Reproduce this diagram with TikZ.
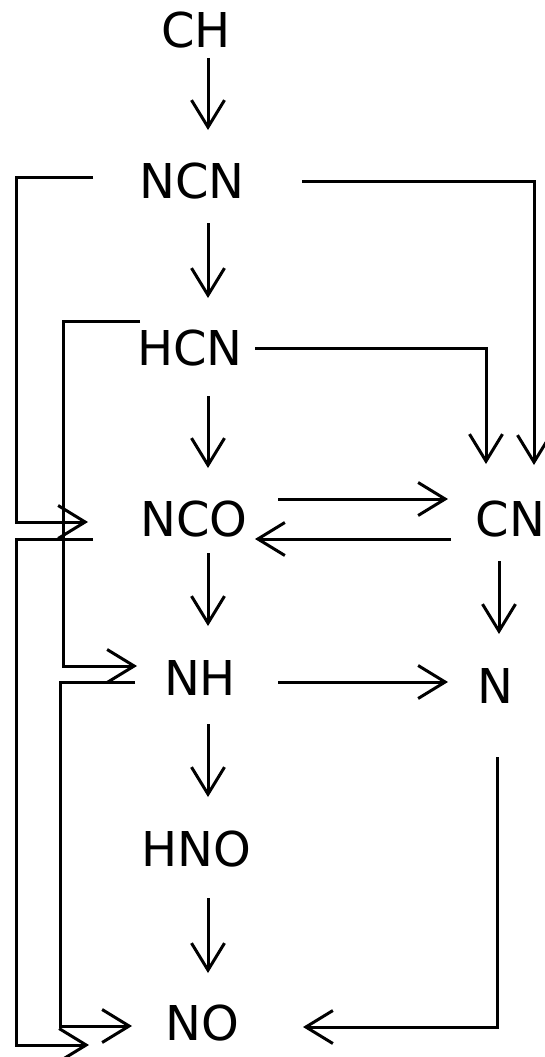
\documentclass[tikz,border=0pt]{standalone}
\usepackage{fontspec}
\setmainfont{DejaVu Sans}
\usetikzlibrary{arrows.meta}
\begin{document}
\begin{tikzpicture}[x=1pt,y=-1pt,
  lbl/.style={inner sep=0pt,font=\fontsize{48}{58}\selectfont},
  conn/.style={line width=3pt,-{Straight Barb[length=27pt,width=33pt,line width=3pt]}}]
\path[use as bounding box] (0,0) rectangle (544,1057);
% species
\node[lbl] (CH)  at (196,30.5) {CH};
\node[lbl] (NCN) at (192,181.5) {NCN};
\node[lbl] (HCN) at (190,348) {HCN};
\node[lbl] (NCO) at (194,519) {NCO};
\node[lbl] (CN)  at (510.5,519) {CN};
\node[lbl] (NH)  at (200,678) {NH};
\node[lbl] (N)   at (495,686) {N};
\node[lbl] (HNO) at (196,849) {HNO};
\node[lbl] (NO)  at (202,1023) {NO};
% main column
\draw[conn] ([shift={(12,27.5)}]CH.center) -- ([shift={(16,-51.5)}]NCN.center);
\draw[conn] ([shift={(16,41.5)}]NCN.center) -- ([shift={(18,-50)}]HCN.center);
\draw[conn] ([shift={(18,48)}]HCN.center) -- ([shift={(14,-51)}]NCO.center);
\draw[conn] ([shift={(14,34)}]NCO.center) -- ([shift={(8,-52)}]NH.center);
\draw[conn] ([shift={(8,46)}]NH.center) -- ([shift={(12,-52)}]HNO.center);
\draw[conn] ([shift={(12,49)}]HNO.center) -- ([shift={(6,-50)}]NO.center);
% right column
\draw[conn] ([shift={(-11.5,42)}]CN.center) -- ([shift={(4,-52)}]N.center);
\draw[conn] ([shift={(84,-20)}]NCO.center) -- ([shift={(-62.5,-20)}]CN.center);
\draw[conn] ([shift={(-59.5,20)}]CN.center) -- ([shift={(61,20)}]NCO.center);
\draw[conn] ([shift={(78,4)}]NH.center) -- ([shift={(-47,-4)}]N.center);
\draw[conn] ([shift={(110,-0.5)}]NCN.center) -| ([shift={(23.5,-54)}]CN.center);
\draw[conn] ([shift={(65,0)}]HCN.center) -| ([shift={(-24.5,-55)}]CN.center);
\draw[conn] ([shift={(2,71)}]N.center) |- ([shift={(101,4)}]NO.center);
% left loops
\draw[conn] ([shift={(-99,-4.5)}]NCN.center) -- ++(-77,0) |- ([shift={(-106,3)}]NCO.center);
\draw[conn] ([shift={(-50,-27)}]HCN.center) -- ++(-77,0) |- ([shift={(-63,-12)}]NH.center);
\draw[conn] ([shift={(-101,20)}]NCO.center) -- ++(-77,0) |- ([shift={(-113,22)}]NO.center);
\draw[conn] ([shift={(-65,4)}]NH.center) -- ++(-75,0) |- ([shift={(-70,3)}]NO.center);
\end{tikzpicture}
\end{document}
